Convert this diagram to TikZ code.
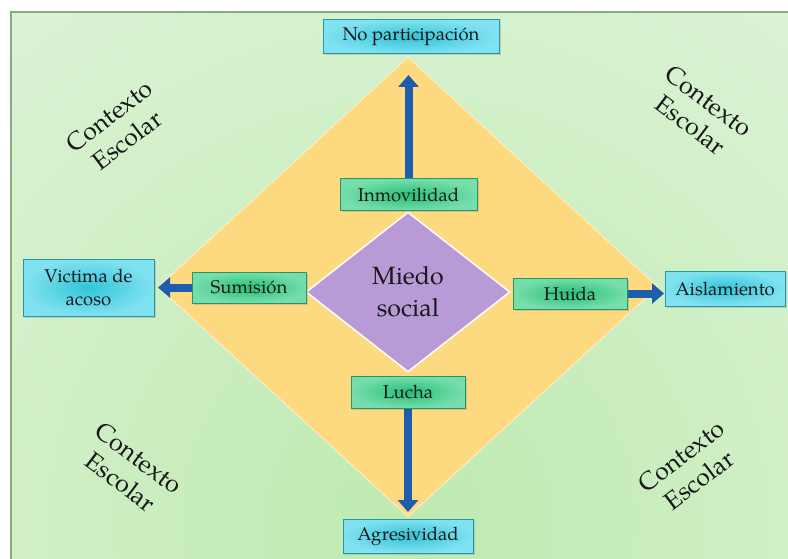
\documentclass[tikz,border=0pt]{standalone}
\usepackage{fontspec}
\setmainfont{TeX Gyre Pagella}
\usetikzlibrary{shapes.geometric,arrows.meta,shadows}
\definecolor{bgL}{RGB}{236,248,234}
\definecolor{bgG}{RGB}{190,234,176}
\definecolor{frameC}{RGB}{140,170,120}
\definecolor{yel}{RGB}{253,217,128}
\definecolor{pur}{RGB}{184,154,214}
\definecolor{gIn}{RGB}{40,190,118}
\definecolor{gOut}{RGB}{118,222,172}
\definecolor{gB}{RGB}{40,150,95}
\definecolor{cIn}{RGB}{52,196,216}
\definecolor{cOut}{RGB}{128,226,240}
\definecolor{cB}{RGB}{40,150,165}
\definecolor{arr}{RGB}{30,92,172}
\begin{document}
\begin{tikzpicture}[x=1pt,y=-1pt,
 base/.style={rectangle, draw, line width=1pt, inner sep=0pt, align=center, text=black!90,
   font=\fontsize{18.5}{23.5}\selectfont,
   drop shadow={shadow xshift=1.5pt, shadow yshift=-1.5pt, opacity=0.3}},
 gbox/.style={base, draw=gB, inner color=gIn, outer color=gOut},
 cbox/.style={base, draw=cB, inner color=cIn, outer color=cOut},
 fat/.style={line width=8pt, draw=arr, -{Triangle[width=20pt,length=12pt]}},
 ctx/.style={align=center, font=\fontsize{25}{30}\selectfont, text=black!90}
]
\useasboundingbox (0,0) rectangle (788,559);
\fill[white] (0,0) rectangle (788,559);
\begin{scope}
\clip (11,12) rectangle (790,562);
\fill[bgL] (11,12) rectangle (790,562);
\shade[inner color=bgG, outer color=bgL] (408,520) circle (1000);
\end{scope}
\draw[frameC, line width=1.5pt] (11,570) -- (11,12) -- (800,12);

% diamonds
\node[diamond, fill=yel, draw=white!55!yel, line width=1pt, minimum width=500pt,
      minimum height=460pt, inner sep=0pt] (big) at (408,287) {};
\node[diamond, fill=pur, draw=white, line width=1.5pt, minimum width=204pt,
      minimum height=160pt, inner sep=0pt, align=center, text=black!90,
      font=\fontsize{25}{32}\selectfont] (mie) at (408,292) {Miedo\\social};

% context labels
\node[ctx, rotate=37]  (c1) at (118,128) {Contexto\\Escolar};
\node[ctx, rotate=-37] (c2) at (700,113) {Contexto\\Escolar};
\node[ctx, rotate=-37] (c3) at (130,470) {Contexto\\Escolar};
\node[ctx, rotate=37]  (c4) at (690,468) {Contexto\\Escolar};

% boxes
\node[cbox, minimum width=176pt, minimum height=34pt] (np)  at (411,37)    {No participación};
\node[gbox, minimum width=137pt, minimum height=32pt] (inm) at (408.5,195) {Inmovilidad};
\node[cbox, minimum width=131pt, minimum height=57pt] (vic) at (88.5,287.5){Victima de\\acoso};
\node[gbox, minimum width=114pt, minimum height=31pt] (sum) at (249,287.5) {Sumisión};
\node[gbox, minimum width=114pt, minimum height=31pt] (hui) at (570,293.5) {Huida};
\node[cbox, minimum width=120pt, minimum height=35pt] (ais) at (725,288.5) {Aislamiento};
\node[gbox, minimum width=114pt, minimum height=32pt] (lu)  at (408,392)   {Lucha};
\node[cbox, minimum width=130pt, minimum height=34pt] (agr) at (408,536)   {Agresividad};

% arrow tips
\coordinate (tu) at (0,75);
\coordinate (tl) at (158,0);
\coordinate (tr) at (664,0);
\coordinate (td) at (0,512);

\draw[fat] (inm.north) -- (inm.north |- tu);
\draw[fat] (sum.west) -- (sum.west -| tl);
\draw[fat] (hui.east) -- (hui.east -| tr);
\draw[fat] (lu.south) -- (lu.south |- td);
\end{tikzpicture}
\end{document}
